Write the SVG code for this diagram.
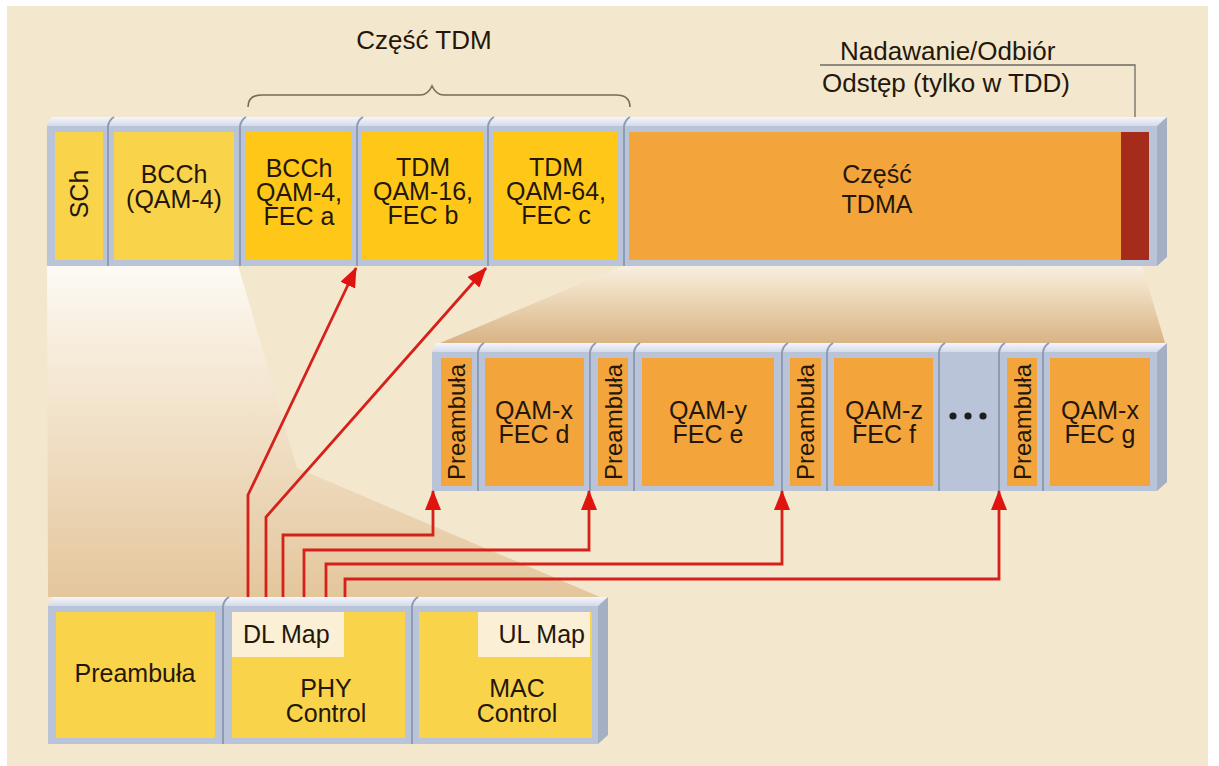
<svg xmlns="http://www.w3.org/2000/svg" width="1219" height="766" viewBox="0 0 1219 766">
  <defs>
    <style>
      .t { font-family: "Liberation Sans", Arial, sans-serif; font-size: 25px; fill: #24170a; text-anchor: middle; }
      .tl { font-family: "Liberation Sans", Arial, sans-serif; font-size: 26px; fill: #24170a; }
      .ts { font-family: "Liberation Sans", Arial, sans-serif; font-size: 24px; fill: #24170a; text-anchor: middle; }
      .frame { fill: #b9c4d8; }
      .top { fill: url(#topFace); }
      .side { fill: #a4afc4; }
      .sep { stroke: #8d9bb5; stroke-width: 2; fill: none; }
      .yl { fill: #f9d44b; }
      .gd { fill: #ffc818; }
      .or { fill: #f3a53c; }
      .map { fill: #fbf0d6; }
      .wire { fill: none; stroke: #d6211b; stroke-width: 2.8; }
      .arrow { marker-end: url(#head); }
    </style>
    <linearGradient id="topFace" x1="0" y1="0" x2="0" y2="1">
      <stop offset="0" stop-color="#f6f6fb"/>
      <stop offset="1" stop-color="#d3daea"/>
    </linearGradient>
    <linearGradient id="projL" gradientUnits="userSpaceOnUse" x1="0" y1="265" x2="0" y2="597">
      <stop offset="0" stop-color="#fdfaf5"/>
      <stop offset="0.18" stop-color="#f9f0e2"/>
      <stop offset="1" stop-color="#e4c69c"/>
    </linearGradient>
    <linearGradient id="projR" gradientUnits="userSpaceOnUse" x1="0" y1="265" x2="0" y2="343">
      <stop offset="0" stop-color="#f8f0e3"/>
      <stop offset="0.3" stop-color="#f0dfc3"/>
      <stop offset="1" stop-color="#d9b384"/>
    </linearGradient>
    <marker id="head" viewBox="0 0 20 16" refX="19" refY="8" markerWidth="20" markerHeight="16" markerUnits="userSpaceOnUse" orient="auto">
      <path d="M0,0 L20,8 L0,16 z" fill="#e0140f"/>
    </marker>
  </defs>

  <!-- background -->
  <rect x="0" y="0" width="1219" height="766" fill="#ffffff"/>
  <rect x="7" y="6" width="1201" height="760" fill="#f3e7cd"/>

  <!-- expansion wedges -->
  <polygon points="47,265 238,265 297,468 600,597 48,597" fill="url(#projL)"/>
  <polygon points="625,265 1142,265 1165,343 440,343" fill="url(#projR)"/>

  <!-- header labels -->
  <g id="tdm-label">
    <path d="M248,107 Q248,95 262,95 H420 Q428,95 432,86 Q436,95 444,95 H616 Q630,95 630,107" fill="none" stroke="#7b6a55" stroke-width="1.6"/>
    <text class="tl" x="424" y="49" style="text-anchor:middle">Część TDM</text>
  </g>
  <g id="gap-label">
    <path d="M820,65 H1135 V155" fill="none" stroke="#6e6a66" stroke-width="1.3"/>
    <text class="tl" x="840" y="60">Nadawanie/Odbiór</text>
    <text class="tl" x="822" y="92">Odstęp (tylko w TDD)</text>
  </g>

  <!-- downlink frame -->
  <g id="frame-top">
    <polygon class="top" points="47,126 51,117 1167,117 1157,126"/>
    <polygon class="side" points="1157,126 1167,117 1167,257 1157,266"/>
    <rect class="frame" x="47" y="126" width="1110" height="140"/>
    <rect class="yl" x="55" y="132" width="48" height="128"/>
    <rect class="yl" x="114" y="132" width="120" height="128"/>
    <rect class="gd" x="246" y="132" width="105" height="128"/>
    <rect class="gd" x="362" y="132" width="121" height="128"/>
    <rect class="gd" x="494" y="132" width="124" height="128"/>
    <rect class="or" x="629" y="132" width="492" height="128"/>
    <rect x="1121" y="132" width="28" height="128" fill="#a52b1a"/>
    <path class="sep" d="M108,126 V266 M108,126 q1,-6 6,-9 M240,126 V266 M240,126 q1,-6 6,-9 M357,126 V266 M357,126 q1,-6 6,-9 M488,126 V266 M488,126 q1,-6 6,-9 M624,126 V266 M624,126 q1,-6 6,-9"/>
  </g>
  <g id="cell-sch"><text class="t" transform="translate(88,194) rotate(-90)">SCh</text></g>
  <g id="cell-bcch"><text class="t" x="174" y="183">BCCh</text><text class="t" x="174" y="208">(QAM-4)</text></g>
  <g id="cell-bcch-a"><text class="t" x="299" y="177">BCCh</text><text class="t" x="299" y="201">QAM-4,</text><text class="t" x="299" y="225">FEC a</text></g>
  <g id="cell-tdm-b"><text class="t" x="423" y="176">TDM</text><text class="t" x="423" y="200">QAM-16,</text><text class="t" x="423" y="224">FEC b</text></g>
  <g id="cell-tdm-c"><text class="t" x="556" y="176">TDM</text><text class="t" x="556" y="200">QAM-64,</text><text class="t" x="556" y="224">FEC c</text></g>
  <g id="cell-tdma"><text class="t" x="877" y="183">Część</text><text class="t" x="877" y="213">TDMA</text></g>

  <!-- uplink subframe -->
  <g id="frame-mid">
    <polygon class="top" points="432,352 436,343 1167,343 1157,352"/>
    <polygon class="side" points="1157,352 1167,343 1167,482 1157,491"/>
    <rect class="frame" x="432" y="352" width="725" height="139"/>
    <rect class="or" x="441" y="358" width="31" height="128"/>
    <rect class="or" x="485" y="358" width="99" height="128"/>
    <rect class="or" x="598" y="358" width="30" height="128"/>
    <rect class="or" x="642" y="358" width="132" height="128"/>
    <rect class="or" x="790" y="358" width="31" height="128"/>
    <rect class="or" x="834" y="358" width="99" height="128"/>
    <rect class="or" x="1007" y="358" width="30" height="128"/>
    <rect class="or" x="1050" y="358" width="100" height="128"/>
    <path class="sep" d="M478,352 V491 M478,352 q1,-6 6,-9 M590,352 V491 M590,352 q1,-6 6,-9 M634,352 V491 M634,352 q1,-6 6,-9 M782,352 V491 M782,352 q1,-6 6,-9 M827,352 V491 M827,352 q1,-6 6,-9 M939,352 V491 M939,352 q1,-6 6,-9 M999,352 V491 M999,352 q1,-6 6,-9 M1043,352 V491 M1043,352 q1,-6 6,-9"/>
  </g>
  <g id="ul-pre-1"><text class="ts" transform="translate(465,422) rotate(-90)">Preambuła</text></g>
  <g id="ul-burst-d"><text class="t" x="534" y="419">QAM-x</text><text class="t" x="534" y="443">FEC d</text></g>
  <g id="ul-pre-2"><text class="ts" transform="translate(622,422) rotate(-90)">Preambuła</text></g>
  <g id="ul-burst-e"><text class="t" x="708" y="419">QAM-y</text><text class="t" x="708" y="443">FEC e</text></g>
  <g id="ul-pre-3"><text class="ts" transform="translate(814,422) rotate(-90)">Preambuła</text></g>
  <g id="ul-burst-f"><text class="t" x="884" y="419">QAM-z</text><text class="t" x="884" y="443">FEC f</text></g>
  <g id="ul-more"><circle cx="953" cy="416" r="3.6" fill="#1e1e1e"/><circle cx="968" cy="416" r="3.6" fill="#1e1e1e"/><circle cx="983" cy="416" r="3.6" fill="#1e1e1e"/></g>
  <g id="ul-pre-4"><text class="ts" transform="translate(1031,422) rotate(-90)">Preambuła</text></g>
  <g id="ul-burst-g"><text class="t" x="1100" y="419">QAM-x</text><text class="t" x="1100" y="443">FEC g</text></g>

  <!-- broadcast header -->
  <g id="frame-bottom">
    <polygon class="top" points="48,606 52,597 608,597 598,606"/>
    <polygon class="side" points="598,606 608,597 608,735 598,744"/>
    <rect class="frame" x="48" y="606" width="550" height="138"/>
    <rect class="yl" x="56" y="612" width="159" height="126"/>
    <rect class="yl" x="232" y="612" width="173" height="126"/>
    <rect class="yl" x="419" y="612" width="173" height="126"/>
    <rect class="map" x="232" y="612" width="112" height="45"/>
    <rect class="map" x="478" y="612" width="112" height="45"/>
    <path class="sep" d="M223,606 V744 M223,606 q1,-6 6,-9 M412,606 V744 M412,606 q1,-6 6,-9"/>
  </g>
  <g id="bc-preamble"><text class="t" x="135" y="682">Preambuła</text></g>
  <g id="bc-phy"><text class="t" x="243" y="643" style="text-anchor:start">DL Map</text><text class="t" x="326" y="697">PHY</text><text class="t" x="326" y="722">Control</text></g>
  <g id="bc-mac"><text class="t" x="585" y="643" style="text-anchor:end">UL Map</text><text class="t" x="517" y="697">MAC</text><text class="t" x="517" y="722">Control</text></g>

  <!-- map pointers -->
  <g id="connectors">
    <path class="wire arrow" d="M248,597 V495 L356,268"/>
    <path class="wire arrow" d="M266,597 V517 L486,268"/>
    <path class="wire arrow" d="M283,597 V535 H433 V491"/>
    <path class="wire arrow" d="M304,597 V550 H589 V491"/>
    <path class="wire arrow" d="M326,597 V564 H782 V491"/>
    <path class="wire arrow" d="M345,597 V579 H999 V491"/>
  </g>
</svg>
